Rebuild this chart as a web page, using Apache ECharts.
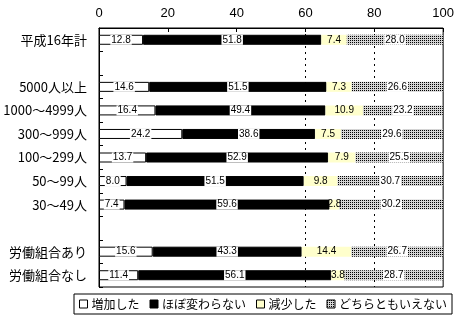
<!DOCTYPE html>
<html><head><meta charset="utf-8">
<script src="https://cdn.jsdelivr.net/npm/echarts@6/dist/echarts.min.js"></script>
<style>html,body{margin:0;padding:0;background:#fff}#c{width:457px;height:319px}</style>
</head><body><div id="c"></div>
<script>
var categories = ['平成16年計', ' ', '5000人以上', '1000～4999人', '300～999人', '100～299人', '50～99人', '30～49人', '  ', '労働組合あり', '労働組合なし'];
var seriesNames = ['増加した', 'ほぼ変わらない', '減少した', 'どちらともいえない'];
var increased = [12.8, null, 14.6, 16.4, 24.2, 13.7, 8.0, 7.4, null, 15.6, 11.4];
var unchanged = [51.8, null, 51.5, 49.4, 38.6, 52.9, 51.5, 59.6, null, 43.3, 56.1];
var decreased = [7.4, null, 7.3, 10.9, 7.5, 7.9, 9.8, 2.8, null, 14.4, 3.8];
var neither = [28.0, null, 26.6, 23.2, 29.6, 25.5, 30.7, 30.2, null, 26.7, 28.7];
var xTicks = [0, 20, 40, 60, 80, 100];

var cv = document.createElement('canvas');
cv.width = 2; cv.height = 2;
var cx = cv.getContext('2d');
cx.fillStyle = '#d4d4d4'; cx.fillRect(0, 0, 2, 2);
cx.fillStyle = '#000'; cx.fillRect(0, 0, 1, 1);
var pattern = {image: cv, repeat: 'repeat'};

var labelFont = {fontFamily: 'Liberation Sans', fontSize: 10, color: '#000'};
function lbl(bg) {
  return Object.assign({show: true, position: 'inside', formatter: function (p) { return p.value == null ? '' : p.value.toFixed(1); },
    backgroundColor: bg, padding: [0, 1, 0, 1]}, labelFont);
}
var iconBorder = {borderColor: '#000', borderWidth: 1};
var chart = echarts.init(document.getElementById('c'), null, {renderer: 'canvas'});
chart.setOption({
  animation: false,
  backgroundColor: '#fff',
  grid: {left: 99, right: 13, top: 28, bottom: 32, show: true, borderColor: '#000', borderWidth: 1, backgroundColor: '#fff'},
  xAxis: {type: 'value', position: 'top', min: 0, max: 100, interval: 20,
    axisLine: {show: true, lineStyle: {color: '#000'}},
    axisTick: {show: true, inside: true, length: 4, lineStyle: {color: '#000'}},
    axisLabel: {fontFamily: 'Liberation Sans', fontSize: 13, color: '#000', margin: 8,
      formatter: function (v) { return xTicks.indexOf(v) >= 0 ? String(v) : ''; }},
    splitLine: {show: true, lineStyle: {type: [2, 4], width: 1, color: ['rgba(0,0,0,0)', 'rgba(0,0,0,0)', 'rgba(0,0,0,0)', '#000', '#000', 'rgba(0,0,0,0)']}}
  },
  yAxis: {type: 'category', inverse: true, data: categories,
    axisLine: {show: true, lineStyle: {color: '#000'}},
    axisTick: {show: true, inside: true, length: 4, lineStyle: {color: '#000'}},
    axisLabel: {fontFamily: 'Noto Sans CJK JP', fontSize: 13, color: '#000', margin: 12}
  },
  legend: {left: 74, top: 294, width: 420, orient: 'horizontal', itemWidth: 8, itemHeight: 8, itemGap: 10,
    borderColor: '#000', borderWidth: 1, padding: [4, 5, 4, 5], icon: 'rect',
    textStyle: {fontFamily: 'Noto Sans CJK JP', fontSize: 12, color: '#000', padding: [0, 0, 0, -1]},
    data: seriesNames.map(function (n) { return {name: n, itemStyle: iconBorder}; })
  },
  series: [
    {name: seriesNames[0], type: 'bar', stack: 's', barWidth: 10, data: increased,
      itemStyle: {color: '#fff', borderColor: '#000', borderWidth: 1}, label: lbl('#fff')},
    {name: seriesNames[1], type: 'bar', stack: 's', barWidth: 10, data: unchanged,
      itemStyle: {color: '#000', borderColor: '#000', borderWidth: 1}, label: lbl('#fff')},
    {name: seriesNames[2], type: 'bar', stack: 's', barWidth: 10, data: decreased,
      itemStyle: {color: '#FFFFCC', borderColor: '#000', borderWidth: 0}, label: lbl('transparent')},
    {name: seriesNames[3], type: 'bar', stack: 's', barWidth: 10, data: neither,
      itemStyle: {color: pattern, borderColor: '#000', borderWidth: 0}, label: lbl('#fff')}
  ]
});
</script></body></html>
